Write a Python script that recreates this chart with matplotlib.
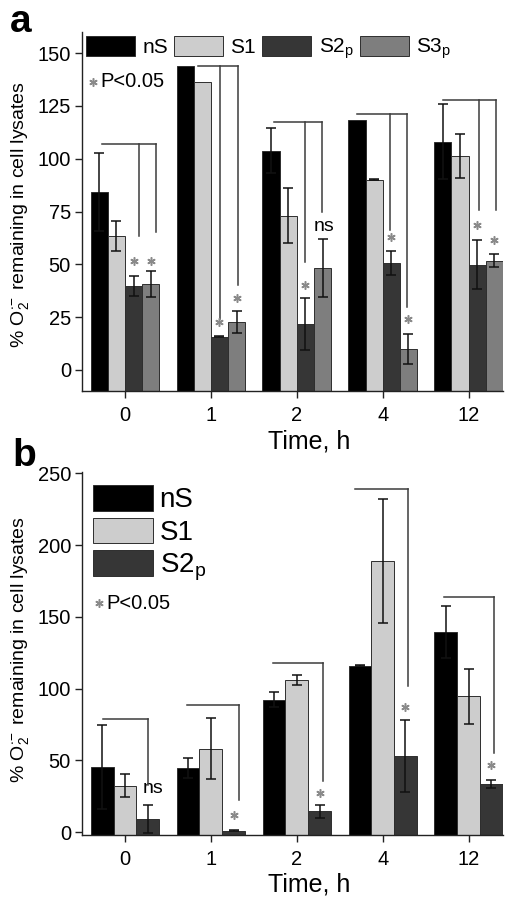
import matplotlib
matplotlib.use('Agg')
import matplotlib.pyplot as plt
import numpy as np

plt.rcParams['font.family'] = ['Liberation Sans', 'DejaVu Sans']
plt.rcParams['mathtext.fontset'] = 'custom'
plt.rcParams['mathtext.rm'] = 'Liberation Sans'
plt.rcParams['mathtext.it'] = 'Liberation Sans:italic'
plt.rcParams['mathtext.bf'] = 'Liberation Sans:bold'

times = ['0', '1', '2', '4', '12']

# panel a: four preparations
a_labels = ['nS', 'S1', r'S2$_\mathregular{p}$', r'S3$_\mathregular{p}$']
a_nS = [84.4, 143.7, 103.8, 118.3, 108.0]
a_nS_err = [18.4, 0.0, 10.8, 0.0, 17.7]
a_S1 = [63.5, 136.3, 73.0, 90.0, 101.3]
a_S1_err = [7.0, 0.0, 13.0, 0.3, 10.6]
a_S2 = [39.8, 15.7, 21.6, 50.7, 49.9]
a_S2_err = [4.8, 0.3, 12.4, 5.7, 11.8]
a_S3 = [40.7, 22.8, 48.3, 9.8, 51.7]
a_S3_err = [6.0, 5.2, 13.7, 7.0, 3.0]
# significance brackets (top, lower ends at S2 / S3) and asterisk heights
a_br_top = [106.9, 143.7, 117.2, 121.1, 128.0]
a_br_end_S2 = [63.5, 24.2, 51.0, 66.4, 75.5]
a_br_end_S3 = [65.4, 40.0, 75.0, 29.7, 75.8]
a_star_S2 = [51.4, 22.5, 40.0, 62.7, 68.7]
a_star_S3 = [51.4, 34.2, None, 23.9, 61.7]
a_ns_S3 = [None, None, 68.0, None, None]

# panel b: three preparations
b_labels = ['nS', 'S1', r'S2$_\mathregular{p}$']
b_nS = [45.3, 44.9, 92.3, 116.0, 139.5]
b_nS_err = [29.2, 7.0, 5.2, 0.3, 18.3]
b_S1 = [32.5, 58.2, 105.9, 189.0, 94.7]
b_S1_err = [8.0, 21.0, 3.5, 43.5, 19.0]
b_S2 = [9.1, 1.0, 14.5, 53.0, 33.6]
b_S2_err = [9.5, 0.3, 4.5, 25.0, 2.7]
b_br_top = [78.8, 88.6, 118.0, 238.9, 164.0]
b_br_end = [33.0, 22.6, 35.5, 102.0, 55.4]
b_star = [None, 12.1, 27.0, 87.0, 46.5]
b_ns = [30.4, None, None, None, None]

colors_a = ['#000000', '#cdcdcd', '#363636', '#7e7e7e']
colors_b = ['#000000', '#cdcdcd', '#363636']
edge = '#2e2e2e'
line_c = '#3c3c3c'
star_c = '#8a8a8a'

# small offsets of the bracket lines (in bar widths)
a_start_shift = [0.18, 0.75, 0.18, 0.0, 0.0]
a_vert_shift = [0.3, 0.05, -0.05, -0.09, 0.09]
b_start_shift = [0.03, -0.07, -0.03, -0.22, -0.1]
b_vert_shift = [0.03, 0.25, 0.16, 0.11, 0.1]

x = np.arange(len(times))


def style_axes(ax, ymin, ymax, yticks):
    ax.set_xlim(-0.5, 4.4)
    ax.set_ylim(ymin, ymax)
    ax.set_xticks(x)
    ax.set_xticklabels(times)
    ax.set_yticks(yticks)
    for s in ['top', 'right']:
        ax.spines[s].set_visible(False)
    for s in ['left', 'bottom']:
        ax.spines[s].set_linewidth(1.0)
        ax.spines[s].set_color('#222222')
    ax.tick_params(direction='out', length=5, width=1.0, color='#222222',
                   labelsize=14.5, pad=3)
    ax.tick_params(axis='x', length=5, pad=6)
    ax.set_xlabel('Time, h', fontsize=18, va='top')
    ax.set_ylabel(r'% O$_\mathregular{2}^{\bullet\!-}$ remaining in cell lysates',
                  fontsize=14)


def draw_bars(ax, vals, errs, colors, labels, w, ymin):
    offs = (np.arange(len(vals)) - (len(vals) - 1) / 2.0) * w
    for k in range(len(vals)):
        v = np.array(vals[k])
        e = np.array(errs[k])
        ax.bar(x + offs[k], v - ymin, w, bottom=ymin, color=colors[k],
               edgecolor=edge, linewidth=0.7, label=labels[k], zorder=2)
        has = e > 0
        ax.errorbar((x + offs[k])[has], v[has], yerr=e[has], fmt='none',
                    ecolor='#111111', elinewidth=1.1, capsize=3.5,
                    capthick=1.1, zorder=3)
    return offs


def star(ax, xs, ys, **kw):
    ax.plot(xs, ys, linestyle='none', marker=(6, 2, 0), ms=6, mew=1.1,
            color=star_c, zorder=4, clip_on=False, **kw)


fig = plt.figure(figsize=(5.25, 9.07), dpi=100)

# ---------------- panel a ----------------
ax = fig.add_axes([82 / 525, 1 - 391 / 907, 421 / 525, 359 / 907])
w_a = 0.2
a_ymin = -10
offs = draw_bars(ax, [a_nS, a_S1, a_S2, a_S3],
                 [a_nS_err, a_S1_err, a_S2_err, a_S3_err],
                 colors_a, a_labels, w_a, a_ymin)
for i in range(len(times)):
    x0 = x[i] + offs[0] + a_start_shift[i] * w_a
    x2 = x[i] + offs[2] + a_vert_shift[i] * w_a
    x3 = x[i] + offs[3] + a_vert_shift[i] * w_a
    ax.plot([x0, x3], [a_br_top[i], a_br_top[i]], color=line_c, lw=1.1, zorder=4)
    ax.plot([x2, x2], [a_br_top[i], a_br_end_S2[i]], color=line_c, lw=1.1, zorder=4)
    ax.plot([x3, x3], [a_br_top[i], a_br_end_S3[i]], color=line_c, lw=1.1, zorder=4)
    star(ax, [x[i] + offs[2]], [a_star_S2[i]])
    if a_star_S3[i] is not None:
        star(ax, [x[i] + offs[3]], [a_star_S3[i]])
    if a_ns_S3[i] is not None:
        ax.text(x[i] + offs[3] + 0.02, a_ns_S3[i], 'ns', fontsize=14,
                ha='center', va='center')
style_axes(ax, a_ymin, 160, [0, 25, 50, 75, 100, 125, 150])
ax.xaxis.set_label_coords(0.54, -0.106)
ax.yaxis.set_label_coords(-0.12, 0.49)
ax.legend(loc='upper left', bbox_to_anchor=(0.0095, 0.99), ncol=4, frameon=False,
          fontsize=15, borderpad=0, borderaxespad=0, handlelength=2.35,
          handleheight=1.15, handletextpad=0.35, columnspacing=0.3)
star(ax, [0.027], [0.862], transform=ax.transAxes)
ax.text(0.044, 0.862, 'P<0.05', fontsize=14.5, transform=ax.transAxes,
        ha='left', va='center')
fig.text(10 / 525, 1 - 32 / 907, 'a', fontsize=28, fontweight='bold',
         ha='left', va='baseline')

# ---------------- panel b ----------------
ax = fig.add_axes([82 / 525, 1 - 835 / 907, 421 / 525, 363 / 907])
w_b = 0.265
b_ymin = -2
offs = draw_bars(ax, [b_nS, b_S1, b_S2], [b_nS_err, b_S1_err, b_S2_err],
                 colors_b, b_labels, w_b, b_ymin)
for i in range(len(times)):
    x0 = x[i] + offs[0] + b_start_shift[i] * w_b
    x2 = x[i] + offs[2] + b_vert_shift[i] * w_b
    ax.plot([x0, x2], [b_br_top[i], b_br_top[i]], color=line_c, lw=1.1, zorder=4)
    ax.plot([x2, x2], [b_br_top[i], b_br_end[i]], color=line_c, lw=1.1, zorder=4)
    if b_star[i] is not None:
        star(ax, [x[i] + offs[2]], [b_star[i]])
    if b_ns[i] is not None:
        ax.text(x[i] + offs[2] + 0.06, b_ns[i], 'ns', fontsize=14,
                ha='center', va='center')
style_axes(ax, b_ymin, 251, [0, 50, 100, 150, 200, 250])
ax.xaxis.set_label_coords(0.54, -0.103)
ax.yaxis.set_label_coords(-0.12, 0.51)
ax.legend(loc='upper left', bbox_to_anchor=(0.026, 0.964), ncol=1, frameon=False,
          fontsize=20, borderpad=0, borderaxespad=0, handlelength=2.15,
          handleheight=1.05, handletextpad=0.25, labelspacing=0.15)
star(ax, [0.04], [0.639], transform=ax.transAxes)
ax.text(0.058, 0.639, 'P<0.05', fontsize=14.5, transform=ax.transAxes,
        ha='left', va='center')
fig.text(12 / 525, 1 - 466 / 907, 'b', fontsize=28, fontweight='bold',
         ha='left', va='baseline')

fig.savefig('out.png', dpi=100)
